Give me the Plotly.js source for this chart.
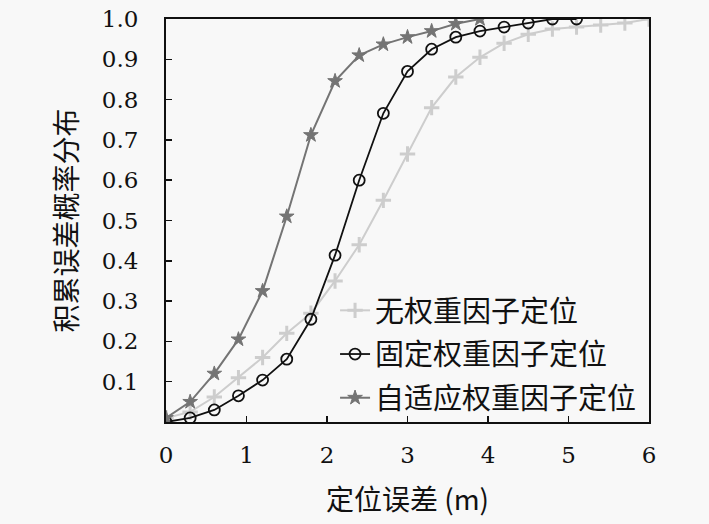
<!DOCTYPE html>
<html>
<head>
<meta charset="utf-8">
<script src="https://cdn.plot.ly/plotly-3.0.1.min.js"></script>
<style>html,body{margin:0;padding:0;background:#f8f8f8;}</style>
</head>
<body>
<div id="chart" style="width:709px;height:524px;"></div>
<script>
// Series names
const seriesNames = ["无权重因子定位", "固定权重因子定位", "自适应权重因子定位"];
// Positioning error (m)
const xNoWeight = [0, 0.3, 0.6, 0.9, 1.2, 1.5, 1.8, 2.1, 2.4, 2.7, 3.0, 3.3, 3.6, 3.9, 4.2, 4.5, 4.8, 5.1, 5.4, 5.7, 6.0];
const yNoWeight = [0.01, 0.025, 0.062, 0.11, 0.16, 0.22, 0.27, 0.35, 0.44, 0.55, 0.665, 0.78, 0.856, 0.905, 0.94, 0.962, 0.975, 0.98, 0.985, 0.99, 1.0];
const xFixed = [0, 0.3, 0.6, 0.9, 1.2, 1.5, 1.8, 2.1, 2.4, 2.7, 3.0, 3.3, 3.6, 3.9, 4.2, 4.5, 4.8, 5.1];
const yFixed = [0.0, 0.01, 0.03, 0.065, 0.104, 0.156, 0.255, 0.414, 0.60, 0.766, 0.87, 0.925, 0.955, 0.97, 0.98, 0.99, 1.0, 1.0];
const xAdaptive = [0, 0.3, 0.6, 0.9, 1.2, 1.5, 1.8, 2.1, 2.4, 2.7, 3.0, 3.3, 3.6, 3.9];
const yAdaptive = [0.01, 0.05, 0.12, 0.205, 0.325, 0.51, 0.712, 0.846, 0.91, 0.937, 0.955, 0.97, 0.988, 1.0];
// Tick labels
const xTickVals = [0, 1, 2, 3, 4, 5, 6];
const xTickText = ["0", "1", "2", "3", "4", "5", "6"];
const yTickVals = [0.1, 0.2, 0.3, 0.4, 0.5, 0.6, 0.7, 0.8, 0.9, 1.0];
const yTickText = ["0.1", "0.2", "0.3", "0.4", "0.5", "0.6", "0.7", "0.8", "0.9", "1.0"];

const cjk = 'Noto Sans CJK SC';
const serif = 'DejaVu Serif, Liberation Serif, serif';

const traces = [
  {
    x: xNoWeight, y: yNoWeight, name: seriesNames[0], mode: 'lines+markers',
    line: {color: '#cdcdcd', width: 2},
    marker: {symbol: 'cross-thin-open', size: 11, color: '#cdcdcd', line: {color: '#cdcdcd', width: 3}},
    legendgroup: 'a'
  },
  {
    x: xFixed, y: yFixed, name: seriesNames[1], mode: 'lines+markers',
    line: {color: '#111111', width: 1.8},
    marker: {symbol: 'circle-open', size: 11, color: '#111111', line: {color: '#111111', width: 1.8}},
    legendgroup: 'b'
  },
  {
    x: xAdaptive, y: yAdaptive, name: seriesNames[2], mode: 'lines+markers',
    line: {color: '#747474', width: 2},
    marker: {symbol: 'star', size: 11, color: '#747474', line: {color: '#747474', width: 1}},
    legendgroup: 'c'
  }
];

const layout = {
  width: 709, height: 524,
  paper_bgcolor: '#f8f8f8', plot_bgcolor: '#f8f8f8',
  margin: {l: 166, r: 60, t: 19, b: 102},
  showlegend: true,
  legend: {
    x: 0.35, y: 0.34, xanchor: 'left', yanchor: 'top',
    bgcolor: 'rgba(0,0,0,0)', borderwidth: 0,
    font: {family: cjk, size: 29, color: '#111'},
    tracegroupgap: 3
  },
  xaxis: {
    range: [0, 6], tickvals: xTickVals, ticktext: xTickText,
    ticks: 'inside', ticklen: 6, tickwidth: 1.5, tickcolor: '#111',
    showline: true, linecolor: '#111', linewidth: 2, mirror: true,
    showgrid: false, zeroline: false,
    tickfont: {family: serif, size: 23, color: '#111'},
    ticklabelstandoff: 11,
    title: {text: '定位误差 (m)', font: {family: cjk, size: 28, color: '#111'}, standoff: 24}
  },
  yaxis: {
    range: [0, 1], tickvals: yTickVals, ticktext: yTickText,
    ticks: 'inside', ticklen: 6, tickwidth: 1.5, tickcolor: '#111',
    showline: true, linecolor: '#111', linewidth: 2, mirror: true,
    showgrid: false, zeroline: false,
    tickfont: {family: serif, size: 23, color: '#111'},
    ticklabelstandoff: 21,
    title: {text: '积累误差概率分布', font: {family: cjk, size: 28, color: '#111'}, standoff: 16}
  }
};

Plotly.newPlot('chart', traces, layout, {displayModeBar: false, staticPlot: true});
</script>
</body>
</html>
